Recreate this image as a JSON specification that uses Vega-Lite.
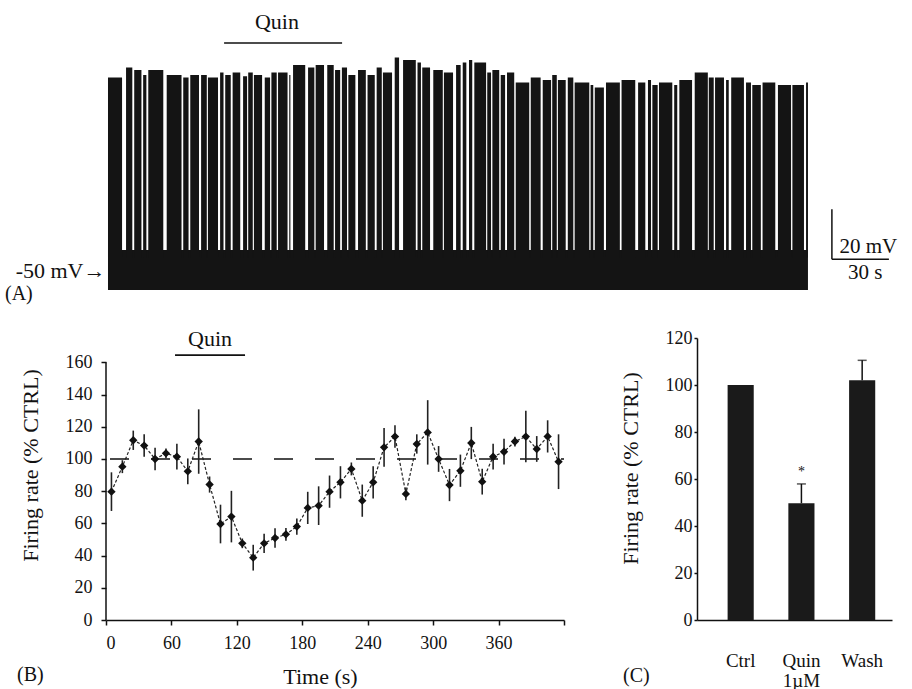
{
  "$schema": "https://vega.github.io/schema/vega-lite/v6.json",
  "padding": {"left": 5, "top": 10, "right": 5, "bottom": 0},
  "bounds": "flush",
  "spacing": 36,
  "config": {
    "font": "Liberation Serif",
    "view": {"stroke": null},
    "axis": {"domainColor": "#111", "domainWidth": 1.5, "tickColor": "#111", "tickWidth": 1.5, "labelColor": "#111", "titleColor": "#111", "labelFont": "Liberation Serif", "titleFont": "Liberation Serif", "titleFontWeight": "normal", "grid": false, "labelOverlap": false},
    "title": {"font": "Liberation Serif", "fontWeight": "normal", "color": "#111"}
  },
  "datasets": {
    "band": [{"t": 0, "t2": 368.4, "v": -58, "v2": -42}],
    "seg": [
      {"t":0,"t2":7.4,"v":27},{"t":9.5,"t2":12.8,"v":31},{"t":13.8,"t2":17.6,"v":30},{"t":18.5,"t2":20.2,"v":28},
      {"t":21.2,"t2":29.1,"v":30},{"t":30.9,"t2":38.7,"v":28},{"t":39.6,"t2":42.4,"v":27},{"t":43.3,"t2":47.9,"v":28},
      {"t":49,"t2":52,"v":28},{"t":52.6,"t2":57.9,"v":27},{"t":59,"t2":60.8,"v":29},{"t":61.7,"t2":64.6,"v":28},
      {"t":65.6,"t2":69.6,"v":29},{"t":71.1,"t2":73.2,"v":27.5},{"t":73.8,"t2":76.2,"v":29},{"t":76.8,"t2":81.1,"v":28},
      {"t":82.5,"t2":85.3,"v":27},{"t":86,"t2":88.8,"v":29},{"t":89.5,"t2":94.5,"v":29},{"t":95.4,"t2":96,"v":28},
      {"t":97.4,"t2":103.8,"v":32},{"t":105.3,"t2":108.6,"v":31},{"t":109.3,"t2":113.7,"v":32},{"t":115.4,"t2":118.8,"v":32},
      {"t":119.5,"t2":122.2,"v":30},{"t":123.1,"t2":125.8,"v":31},{"t":126.5,"t2":130.2,"v":28},{"t":131.6,"t2":135.7,"v":30},
      {"t":136.6,"t2":140.4,"v":28},{"t":141.4,"t2":144.1,"v":31},{"t":144.7,"t2":149.5,"v":29},{"t":150.9,"t2":153.2,"v":35},
      {"t":155.3,"t2":162,"v":34},{"t":162.9,"t2":164.7,"v":33},{"t":165.4,"t2":169.5,"v":31},{"t":171.2,"t2":176.2,"v":30},
      {"t":176.8,"t2":181.6,"v":29},{"t":183.2,"t2":185.6,"v":32},{"t":186.7,"t2":188.6,"v":33},{"t":190,"t2":191.7,"v":34},
      {"t":192.8,"t2":199,"v":33},{"t":199.6,"t2":201.6,"v":29},{"t":202.3,"t2":205.9,"v":30},{"t":206.7,"t2":209,"v":28},
      {"t":210,"t2":213.8,"v":29},{"t":214.6,"t2":221.7,"v":25},{"t":222.5,"t2":227.7,"v":27},{"t":228.8,"t2":233.2,"v":26},
      {"t":233.8,"t2":236.2,"v":28},{"t":236.8,"t2":240.9,"v":26},{"t":242,"t2":244.9,"v":27},{"t":245.6,"t2":253.3,"v":25},
      {"t":254,"t2":255.4,"v":24},{"t":256.2,"t2":261,"v":23},{"t":262.1,"t2":269.4,"v":25},{"t":270.3,"t2":277.5,"v":26},
      {"t":279,"t2":282.8,"v":25},{"t":284.2,"t2":285.8,"v":26},{"t":286.5,"t2":289.3,"v":24},{"t":290,"t2":297,"v":25},
      {"t":298,"t2":299.6,"v":24},{"t":300.7,"t2":307.4,"v":26},{"t":308.8,"t2":315.7,"v":29},{"t":316.2,"t2":318.8,"v":27},
      {"t":319.5,"t2":324.2,"v":27},{"t":325.3,"t2":326.7,"v":26},{"t":328,"t2":334.7,"v":27},{"t":335.8,"t2":338.4,"v":25},
      {"t":339.1,"t2":343.6,"v":24},{"t":344.5,"t2":351.2,"v":25},{"t":352.6,"t2":359.5,"v":24},{"t":360.2,"t2":366.3,"v":24},
      {"t":367.4,"t2":368.4,"v":25}
    ],
    "aScale": [{"t": 381, "t2": 381, "v": -45.7, "v2": -25.7}, {"t": 381, "t2": 411, "v": -45.7, "v2": -45.7}],
    "aScaleText": [{"t": 385, "v": -40.8, "label": "20 mV"}, {"t": 389.5, "v": -51, "label": "30 s"}],
    "aQuin": [{"t": 61.1, "t2": 123.2, "v": 40.8}],
    "aQuinText": [{"t": 88.9, "v": 49.2, "label": "Quin"}],
    "pts": [
      {"t":5,"v":79.7,"lo":67.7,"hi":91.7},{"t":15,"v":95.2,"lo":91.2,"hi":99.2},{"t":25,"v":111.6,"lo":105.6,"hi":117.6},
      {"t":35,"v":108.3,"lo":101.3,"hi":115.3},{"t":45,"v":100,"lo":93,"hi":107},{"t":55,"v":103.5,"lo":100.5,"hi":106.5},
      {"t":65,"v":101.4,"lo":93.4,"hi":109.4},{"t":75,"v":92.3,"lo":84.3,"hi":100.3},{"t":85,"v":110.8,"lo":90.8,"hi":130.8},
      {"t":95,"v":84.1,"lo":79.1,"hi":89.1},{"t":105,"v":59.6,"lo":47.6,"hi":71.6},{"t":115,"v":64.2,"lo":48.2,"hi":80.2},
      {"t":125,"v":47.6,"lo":44.6,"hi":50.6},{"t":135,"v":38.7,"lo":30.7,"hi":46.7},{"t":145,"v":47.6,"lo":41.6,"hi":53.6},
      {"t":155,"v":50.9,"lo":44.9,"hi":56.9},{"t":165,"v":53.2,"lo":49.2,"hi":57.2},{"t":175,"v":58,"lo":53,"hi":63},
      {"t":185,"v":69.6,"lo":59.6,"hi":79.6},{"t":195,"v":71,"lo":59,"hi":83},{"t":205,"v":79.7,"lo":69.7,"hi":89.7},
      {"t":215,"v":85.5,"lo":75.5,"hi":95.5},{"t":225,"v":93.8,"lo":89.8,"hi":97.8},{"t":235,"v":74.1,"lo":64.1,"hi":84.1},
      {"t":245,"v":85.5,"lo":75.5,"hi":95.5},{"t":255,"v":107.2,"lo":95.2,"hi":119.2},{"t":265,"v":113.9,"lo":106.9,"hi":120.9},
      {"t":275,"v":78.3,"lo":74.3,"hi":82.3},{"t":285,"v":109.3,"lo":103.3,"hi":115.3},{"t":295,"v":116.5,"lo":96.5,"hi":136.5},
      {"t":305,"v":100,"lo":92,"hi":108},{"t":315,"v":83.8,"lo":73.8,"hi":93.8},{"t":325,"v":92.7,"lo":82.7,"hi":102.7},
      {"t":335,"v":109.9,"lo":99.9,"hi":119.9},{"t":345,"v":85.9,"lo":77.9,"hi":93.9},{"t":355,"v":101.4,"lo":93.4,"hi":109.4},
      {"t":365,"v":104.5,"lo":96.5,"hi":112.5},{"t":375,"v":110.8,"lo":107.8,"hi":113.8},{"t":385,"v":113.9,"lo":97.9,"hi":129.9},
      {"t":395,"v":106.2,"lo":98.2,"hi":114.2},{"t":405,"v":114,"lo":104,"hi":124},{"t":415,"v":98.3,"lo":81.3,"hi":115.3}
    ],
    "bRef": [{"t": 0, "t2": 420, "v": 100}],
    "bAxis": [{"t": 0, "v": 0, "v2": 160}],
    "bQuin": [{"t": 63.3, "t2": 127.5, "v": 164.5}],
    "bQuinText": [{"t": 95.4, "v": 174.3, "label": "Quin"}],
    "cBars": [{"cond": "Ctrl", "v": 100}, {"cond": "Quin", "v": 49.7}, {"cond": "Wash", "v": 102}],
    "cErr": [{"cond": "Quin", "v": 49.7, "v2": 57.9}, {"cond": "Wash", "v": 102, "v2": 110.5}],
    "cCap": [{"cond": "Quin", "v": 57.9}, {"cond": "Wash", "v": 110.5}],
    "cStar": [{"cond": "Quin", "v": 63, "label": "*"}]
  },
  "vconcat": [
    {
      "width": 702,
      "height": 290,
      "title": {"text": "(A)", "orient": "bottom", "anchor": "start", "frame": "group", "offset": 0, "dx": -101, "dy": -18, "fontSize": 20, "baseline": "top"},
      "layer": [
        {
          "data": {"name": "band"},
          "mark": {"type": "rect", "color": "#141414"},
          "encoding": {
            "x": {"field": "t", "type": "quantitative", "scale": {"domain": [-1.05, 368.42], "nice": false, "zero": false}, "axis": null},
            "x2": {"field": "t2"},
            "y": {"field": "v", "type": "quantitative", "scale": {"domain": [-62.8, 53.2], "nice": false, "zero": false},
                  "axis": {"values": [-50], "labelExpr": "'-50 mV→'", "domain": false, "ticks": false, "labelPadding": 1, "labelFontSize": 22, "title": null, "labelBaseline": "middle"}},
            "y2": {"field": "v2"}
          }
        },
        {
          "data": {"name": "seg"},
          "mark": {"type": "rect", "color": "#141414"},
          "encoding": {
            "x": {"field": "t", "type": "quantitative", "axis": null},
            "x2": {"field": "t2"},
            "y": {"field": "v", "type": "quantitative"},
            "y2": {"datum": -45}
          }
        },
        {
          "data": {"name": "aScale"},
          "mark": {"type": "rule", "color": "#111", "strokeWidth": 1.5},
          "encoding": {
            "x": {"field": "t", "type": "quantitative", "axis": null},
            "x2": {"field": "t2"},
            "y": {"field": "v", "type": "quantitative"},
            "y2": {"field": "v2"}
          }
        },
        {
          "data": {"name": "aScaleText"},
          "mark": {"type": "text", "align": "left", "baseline": "middle", "fontSize": 21, "color": "#111"},
          "encoding": {
            "x": {"field": "t", "type": "quantitative", "axis": null},
            "y": {"field": "v", "type": "quantitative"},
            "text": {"field": "label"}
          }
        },
        {
          "data": {"name": "aQuin"},
          "mark": {"type": "rule", "color": "#111", "strokeWidth": 1.5},
          "encoding": {
            "x": {"field": "t", "type": "quantitative", "axis": null},
            "x2": {"field": "t2"},
            "y": {"field": "v", "type": "quantitative"}
          }
        },
        {
          "data": {"name": "aQuinText"},
          "mark": {"type": "text", "align": "center", "baseline": "middle", "fontSize": 22, "color": "#111"},
          "encoding": {
            "x": {"field": "t", "type": "quantitative", "axis": null},
            "y": {"field": "v", "type": "quantitative"},
            "text": {"field": "label"}
          }
        }
      ]
    },
    {
      "bounds": "flush",
      "spacing": 133,
      "hconcat": [
        {
          "width": 458,
          "height": 282,
          "title": {"text": "(B)", "orient": "bottom", "anchor": "start", "frame": "group", "offset": 0, "dx": -89, "dy": -22, "fontSize": 20, "baseline": "top"},
          "layer": [
            {
              "data": {"name": "bRef"},
              "mark": {"type": "rule", "color": "#111", "strokeWidth": 1.5, "strokeDash": [19, 22], "strokeDashOffset": -4},
              "encoding": {
                "x": {"field": "t", "type": "quantitative", "title": "Time (s)", "scale": {"domain": [0, 420], "nice": false},
                      "axis": {"values": [0, 60, 120, 180, 240, 300, 360, 420], "tickCount": 12, "labelExpr": "datum.value == 420 ? '' : datum.label", "tickSize": 5, "labelPadding": 9, "labelFontSize": 18, "titleFontSize": 22, "titleX": 214, "titleY": 56, "titleBaseline": "middle"}},
                "x2": {"field": "t2"},
                "y": {"field": "v", "type": "quantitative", "title": "Firing rate (% CTRL)", "scale": {"domain": [0, 175.1], "nice": false},
                      "axis": {"values": [0, 20, 40, 60, 80, 100, 120, 140, 160], "tickCount": 12, "domain": false, "tickSize": 5, "labelPadding": 9, "labelFontSize": 18, "titleFontSize": 22, "titleX": -64, "titleY": 127}}
              }
            },
            {
              "data": {"name": "bAxis"},
              "mark": {"type": "rule", "color": "#111", "strokeWidth": 1.5},
              "encoding": {
                "x": {"field": "t", "type": "quantitative", "title": "Time (s)"},
                "y": {"field": "v", "type": "quantitative", "title": "Firing rate (% CTRL)"},
                "y2": {"field": "v2"}
              }
            },
            {
              "data": {"name": "pts"},
              "mark": {"type": "rule", "color": "#222", "strokeWidth": 1.6},
              "encoding": {
                "x": {"field": "t", "type": "quantitative", "title": "Time (s)"},
                "y": {"field": "lo", "type": "quantitative", "title": "Firing rate (% CTRL)"},
                "y2": {"field": "hi"}
              }
            },
            {
              "data": {"name": "pts"},
              "mark": {"type": "line", "color": "#222", "strokeWidth": 1.2, "strokeDash": [3, 2]},
              "encoding": {
                "x": {"field": "t", "type": "quantitative", "title": "Time (s)"},
                "y": {"field": "v", "type": "quantitative", "title": "Firing rate (% CTRL)"}
              }
            },
            {
              "data": {"name": "pts"},
              "mark": {"type": "point", "shape": "diamond", "filled": true, "color": "#111", "size": 70, "opacity": 1},
              "encoding": {
                "x": {"field": "t", "type": "quantitative", "title": "Time (s)"},
                "y": {"field": "v", "type": "quantitative", "title": "Firing rate (% CTRL)"}
              }
            },
            {
              "data": {"name": "bQuin"},
              "mark": {"type": "rule", "color": "#111", "strokeWidth": 1.8},
              "encoding": {
                "x": {"field": "t", "type": "quantitative", "title": "Time (s)"},
                "x2": {"field": "t2"},
                "y": {"field": "v", "type": "quantitative", "title": "Firing rate (% CTRL)"}
              }
            },
            {
              "data": {"name": "bQuinText"},
              "mark": {"type": "text", "align": "center", "baseline": "middle", "fontSize": 22, "color": "#111"},
              "encoding": {
                "x": {"field": "t", "type": "quantitative", "title": "Time (s)"},
                "y": {"field": "v", "type": "quantitative", "title": "Firing rate (% CTRL)"},
                "text": {"field": "label"}
              }
            }
          ]
        },
        {
          "width": 195,
          "height": 282,
          "title": {"text": "(C)", "orient": "bottom", "anchor": "start", "frame": "group", "offset": 0, "dx": -74, "dy": -24, "fontSize": 20, "baseline": "top"},
          "layer": [
            {
              "data": {"name": "cBars"},
              "mark": {"type": "bar", "color": "#1a1a1a"},
              "encoding": {
                "x": {"field": "cond", "type": "nominal", "sort": null, "title": null, "scale": {"paddingInner": 0.57, "paddingOuter": 0.39, "align": 0.646},
                      "axis": {"labelAngle": 0, "labelExpr": "datum.value == 'Quin' ? ['Quin', '1µM'] : datum.label", "labelFontSize": 19, "labelPadding": 31, "ticks": false, "tickSize": 0, "labelBaseline": "top", "labelLineHeight": 20}},
                "y": {"field": "v", "type": "quantitative", "title": "Firing rate (% CTRL)", "scale": {"domain": [0, 120], "nice": false},
                      "axis": {"values": [0, 20, 40, 60, 80, 100, 120], "tickCount": 10, "tickSize": 3, "labelPadding": 2, "labelFontSize": 18, "titleFontSize": 22, "titleX": -55, "titleY": 130}}
              }
            },
            {
              "data": {"name": "cErr"},
              "mark": {"type": "rule", "color": "#111", "strokeWidth": 1.5},
              "encoding": {
                "x": {"field": "cond", "type": "nominal", "sort": null, "title": null},
                "y": {"field": "v", "type": "quantitative", "title": "Firing rate (% CTRL)"},
                "y2": {"field": "v2"}
              }
            },
            {
              "data": {"name": "cCap"},
              "mark": {"type": "tick", "color": "#111", "thickness": 1.5, "size": 9},
              "encoding": {
                "x": {"field": "cond", "type": "nominal", "sort": null, "title": null},
                "y": {"field": "v", "type": "quantitative", "title": "Firing rate (% CTRL)"}
              }
            },
            {
              "data": {"name": "cStar"},
              "mark": {"type": "text", "align": "center", "baseline": "middle", "fontSize": 14, "color": "#111"},
              "encoding": {
                "x": {"field": "cond", "type": "nominal", "sort": null, "title": null},
                "y": {"field": "v", "type": "quantitative", "title": "Firing rate (% CTRL)"},
                "text": {"field": "label"}
              }
            }
          ]
        }
      ]
    }
  ]
}
